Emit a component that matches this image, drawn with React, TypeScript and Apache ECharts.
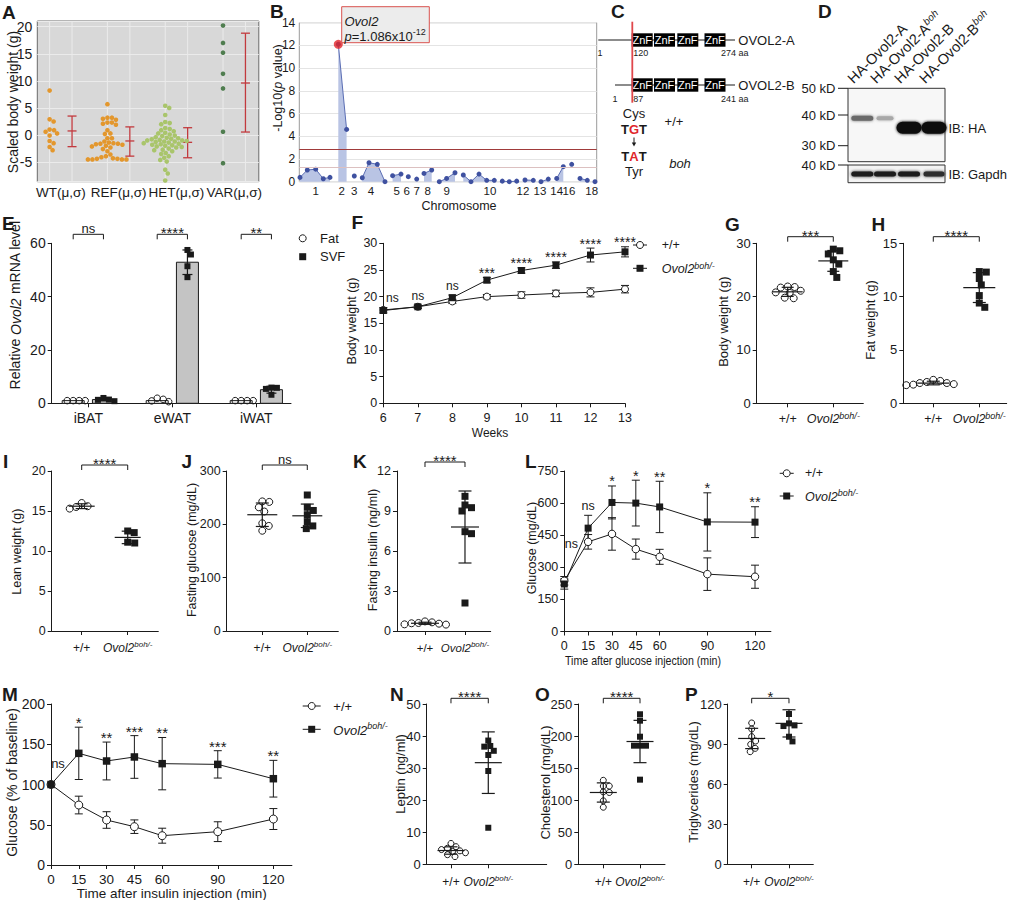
import React, { useEffect, useRef } from 'react';
import * as echarts from 'echarts';

const FONT = "'Liberation Sans', Arial, Helvetica, sans-serif";
const INK = '#1a1a1a';

// ---------------- Panel A ----------------
const aGroupLabels = ['WT(μ,σ)', 'REF(μ,σ)', 'HET(μ,σ)', 'VAR(μ,σ)'];
const aWT = [8.2, 2.9, 2.5, 1.0, 0.9, 0.6, 0.3, -0.1, -1.1, -1.5, -2.2, -2.8];
const aREF = [5.7, 3.2, 3.2, 3.0, 2.8, 2.3, 2.3, 2.1, 1.9, 0.9, 0.3, 0.2, -0.6, -0.6, -1.2, -1.4, -1.5, -1.6, -1.6, -1.7, -1.8, -2.0, -2.1, -2.3, -2.6, -3.0, -3.6, -3.9, -4.1, -4.3, -4.4, -4.5, -4.5, -4.5, -4.5, -4.4];
const aHET = [5.4, 5.0, 3.7, 2.4, 2.2, 2.0, 1.3, 1.1, 0.9, 0.7, 0.4, 0.3, 0.1, -0.1, -0.2, -0.4, -0.5, -0.6, -0.7, -0.8, -0.9, -1.0, -1.0, -1.1, -1.2, -1.2, -1.3, -1.4, -1.5, -1.6, -1.7, -1.8, -1.9, -2.0, -2.1, -2.2, -2.3, -2.5, -2.7, -2.8, -3.0, -3.3, -3.5, -3.9, -4.2, -4.6, -4.9, -6.4, -7.1, -8.4];
const aVAR = [20.2, 17.0, 15.2, 11.3, 8.6, 0.6, -5.2];
const aMean = [0.75, -1.1, -1.35, 9.6];
const aLow = [-2.15, -3.9, -4.2, 0.55];
const aHigh = [3.5, 1.5, 1.35, 18.8];
const aColors = ['#e3972d', '#e3972d', '#a9c56b', '#4f7d4f'];

// ---------------- Panel B ----------------
const bChrom = ['1', '1', '1', '1', '1', '2', '2', '3', '4', '4', '4', '4', '5', '5', '6', '7', '8', '8', '9', '9', '9', '10', '10', '10', '10', '10', '11', '11', '11', '12', '12', '13', '13', '14', '14', '16', '17', '17', '18'];
const bPos = [0.7, 8, 16.4, 24, 30.7, 39, 47.3, 55, 63, 69.7, 78, 85.7, 93.3, 101.7, 109, 117.4, 124.7, 132.4, 140, 147.3, 155.7, 164, 171.7, 179.7, 187.4, 195, 203, 210, 217.4, 225.7, 234, 241.7, 249, 257.4, 264, 272.4, 280.7, 288, 295.7];
const bLogP = [0.38, 1.03, 1.1, 0.26, 0.38, 12.1, 4.6, 0.5, 0.35, 1.67, 1.53, 0.0, 0.53, 0.67, 0.44, 0.23, 0.73, 1.03, 0.0, 0.29, 0.79, 0.59, 0.0, 0.67, 0.12, 0.12, 0.05, 0.0, 0.05, 0.15, 0.12, 0.0, 0.23, 0.29, 1.32, 1.53, 0.29, 0.12, 0.0];
const bChromLabels = ['1', '2', '3', '4', '5', '6', '7', '8', '9', '10', '12', '13', '14', '16', '17', '18'];
const bChromLabelPos = [16.4, 42.4, 55, 71.7, 97.4, 107.4, 117.4, 128.4, 147.4, 190.7, 223.7, 240.7, 257.4, 269.7, 280.7, 292.4];
const bPeak = [39, 12.1];
const bThresholds = [2.85, 1.23];

// ---------------- Panel E ----------------
const eTissues = ['iBAT', 'eWAT', 'iWAT'];
const eFatPts = [[1.0, 1.0, 1.0, 1.0], [0.6, 1.9, 1.5, 0.9], [1.0, 1.0, 1.0, 1.0]];
const eSvfPts = [[0.8, 2.0, 1.3, 1.4], [55.8, 57.5, 51.4, 47.3], [5.9, 5.8, 5.4, 3.2]];
const eFatMean = [1.0, 1.0, 1.0];
const eSvfMean = [1.4, 52.9, 5.1];
const eSvfSd = [0.5, 4.6, 1.3];
const eSig = ['ns', '****', '**'];

// ---------------- Panel F ----------------
const fWeeks = [6, 7, 8, 9, 10, 11, 12, 13];
const fWT = [17.5, 18.1, 19.1, 20.0, 20.3, 20.6, 20.8, 21.4];
const fWTsd = [0.4, 0.3, 0.4, 0.4, 0.6, 0.6, 0.85, 0.7];
const fKO = [17.4, 18.1, 19.8, 23.1, 24.9, 25.9, 27.8, 28.4];
const fKOsd = [0.5, 0.3, 0.5, 0.5, 0.5, 0.6, 1.3, 0.95];
const fSig = ['ns', 'ns', 'ns', '***', '****', '****', '****', '****'];
const fSigDx = [9, 0, 0, 0, 0, 0, 0, 0];
const fSigDy = [-1, 0, 0, 0, 0, 0, 0, 0];

// ---------------- Panel L ----------------
const lTimes = [0, 15, 30, 45, 60, 90, 120];
const lWT = [237, 419, 456, 385, 349, 268, 256];
const lWTsd = [20, 34, 76, 47, 35, 76, 54];
const lKO = [222, 483, 603, 600, 582, 512, 511];
const lKOsd = [24, 60, 77, 107, 120, 136, 72];
const lSig = ['ns', 'ns', '*', '*', '**', '*', '**'];
const lSigDx = [7, 0, 0, 0, 0, 0, 0];
const lSigDy = [-24, 0, 0, 0, 0, 0, 0];

// ---------------- Panel M ----------------
const mTimes = [0, 15, 30, 45, 60, 90, 120];
const mWT = [100, 74.5, 55.9, 47.6, 36.4, 41.4, 57.1];
const mWTsd = [0, 11, 10.3, 8.4, 9.3, 12.3, 13];
const mKO = [100, 138.7, 129.2, 134.2, 125.9, 125, 107.2];
const mKOsd = [0, 32.5, 23.5, 26.5, 32.5, 17, 22.8];
const mSig = ['ns', '*', '**', '***', '**', '***', '**'];
const mSigDx = [7, 0, 0, 0, 0, 0, 0];
const mSigDy = [-12, 0, 0, 0, 0, 0, 0];

// ---------------- Dot plots G–P ----------------
const gWT = [21.9, 21.8, 21.7, 21.1, 20.8, 20.7, 19.8, 19.7];
const gKO = [28.9, 28.6, 28.0, 26.9, 26.1, 24.7, 23.6];
const gMean = [20.9, 26.7];
const gSd = [0.85, 1.95];
const hWT = [2.2, 2.1, 2.0, 1.9, 1.9, 1.8, 1.75, 1.7];
const hKO = [12.35, 12.3, 11.7, 11.1, 10.1, 9.4, 9.0];
const hMean = [1.9, 10.85];
const hSd = [0.17, 1.4];
const iWT = [16.0, 15.6, 15.5, 15.3];
const iKO = [12.5, 12.3, 11.1, 11.0];
const iMean = [15.6, 11.7];
const iSd = [0.3, 0.78];
const jWT = [243, 242, 232, 224, 202, 197, 188];
const jKO = [255, 232, 226, 218, 205, 197, 192];
const jMean = [218, 216];
const jSd = [22, 22];
const kWT = [0.72, 0.65, 0.6, 0.58, 0.55, 0.5, 0.48];
const kKO = [10.1, 9.45, 9.25, 9.0, 7.45, 7.3, 2.1];
const kMean = [0.58, 7.8];
const kSd = [0.08, 2.7];
const nWT = [6.5, 5.5, 5.0, 4.6, 4.2, 4.0, 3.6, 3.0, 2.4];
const nKO = [38.6, 36.9, 36.7, 35.4, 34.1, 29.1, 11.4];
const nMean = [4.3, 31.7];
const nSd = [1.15, 9.6];
const oWT = [131, 122, 122, 113, 112, 99, 89];
const oKO = [234, 224, 199, 185, 185, 185, 132];
const oMean = [112, 191.5];
const oSd = [15, 33];
const pWT = [105.8, 101.3, 95.6, 92.3, 89.8, 86.8, 84.3];
const pKO = [112.5, 105.5, 104, 103.5, 95.5, 92];
const pMean = [94.2, 105.5];
const pSd = [7.6, 10.2];

// ---------------- Panel D ----------------
const dLaneLabels = ['{n|HA-Ovol2-A}', '{n|HA-Ovol2-A}{s|boh}', '{n|HA-Ovol2-B}', '{n|HA-Ovol2-B}{s|boh}'];
const dMarkers = ['50 kD', '40 kD', '30 kD', '40 kD'];

// beeswarm layout (deterministic, derived from values)
function swarm(vals: number[], pxPerUnit: number, d: number): number[] {
  const order = vals.map((_, i) => i).sort((a, b) => vals[b] - vals[a]);
  const placed: number[][] = [];
  const out: number[] = new Array(vals.length).fill(0);
  for (const i of order) {
    const y = vals[i] * pxPerUnit;
    let x = 0;
    for (let k = 0; k < 600; k++) {
      const cands = k === 0 ? [0] : [k * 0.5, -k * 0.5];
      let ok: number | null = null;
      for (const c of cands) {
        if (placed.every(([px, py]) => (px - c) * (px - c) + (py - y) * (py - y) >= d * d)) { ok = c; break; }
      }
      if (ok !== null) { x = ok; break; }
    }
    out[i] = x;
    placed.push([x, y]);
  }
  return out;
}

function rich(fs: number) {
  const s = Math.round(fs * 0.7);
  return {
    n: { fontSize: fs, fontFamily: FONT, color: INK, fill: INK, lineHeight: fs + 2, verticalAlign: 'bottom' },
    i: { fontSize: fs, fontFamily: FONT, color: INK, fill: INK, fontStyle: 'italic', lineHeight: fs + 2, verticalAlign: 'bottom' },
    b: { fontSize: fs, fontFamily: FONT, color: INK, fill: INK, fontWeight: 'bold', lineHeight: fs + 2, verticalAlign: 'bottom' },
    r: { fontSize: fs, fontFamily: FONT, color: '#e0262b', fill: '#e0262b', fontWeight: 'bold', lineHeight: fs + 2, verticalAlign: 'bottom' },
    s: { fontSize: s, fontFamily: FONT, color: INK, fill: INK, fontStyle: 'italic', lineHeight: s, verticalAlign: 'top' },
    sn: { fontSize: s, fontFamily: FONT, color: INK, fill: INK, lineHeight: s, verticalAlign: 'top' },
  };
}

function buildOption() {
  const grids: any[] = [];
  const xAxis: any[] = [];
  const yAxis: any[] = [];
  const series: any[] = [];
  const graphic: any[] = [];

  const axLine = { show: true, lineStyle: { color: INK, width: 1 } };
  const axTick = { show: true, length: 4, lineStyle: { color: INK, width: 1 } };
  const lbl = (fs: number, extra: any = {}) => ({ color: INK, fontSize: fs, fontFamily: FONT, hideOverlap: false, ...extra });

  function addGrid(g: number[], extra: any, x: any, y: any) {
    const i = grids.length;
    grids.push({ left: g[0], top: g[1], width: g[2], height: g[3], containLabel: false, outerBoundsMode: 'none', ...extra });
    xAxis.push({ gridIndex: i, ...x });
    yAxis.push({ gridIndex: i, ...y });
    return i;
  }

  const text = (x: number, y: number, t: string, fs: number, opts: any = {}) => ({
    type: 'text', x, y, rotation: opts.rotation || 0, scaleX: opts.scaleX || 1, z: 20,
    style: {
      text: t, rich: rich(fs), fontSize: fs, fontFamily: FONT, fill: opts.fill || INK,
      fontWeight: opts.bold ? 'bold' : 'normal', fontStyle: opts.italic ? 'italic' : 'normal',
      align: opts.align || 'center', verticalAlign: opts.va || 'middle',
    },
  });
  const yTitle = (t: string, x: number, y: number, fs: number) => text(x, y, t, fs, { rotation: Math.PI / 2 });
  const letter = (t: string, x: number, y: number) => text(x, y, t, 19, { bold: true, align: 'left' });

  const dots = (gi: number, data: any[], kind: string, size: number, color = INK, z = 5) => ({
    type: 'custom', xAxisIndex: gi, yAxisIndex: gi, data, clip: false, z, silent: true,
    encode: { x: 0, y: 1 },
    renderItem: (params: any, api: any) => {
      const p = api.coord([api.value(0), api.value(1)]);
      const cx = p[0] + api.value(2);
      const cy = p[1];
      if (kind === 'sq') return { type: 'rect', shape: { x: cx - size / 2, y: cy - size / 2, width: size, height: size }, style: { fill: INK } };
      if (kind === 'open') return { type: 'circle', shape: { cx, cy, r: size / 2 }, style: { fill: 'rgba(255,255,255,0)', stroke: INK, lineWidth: 1 } };
      return { type: 'circle', shape: { cx, cy, r: size / 2 }, style: { fill: color } };
    },
  });

  const errs = (gi: number, data: any[], meanW: number, capW: number, color = INK, lw = 1, z = 4) => ({
    type: 'custom', xAxisIndex: gi, yAxisIndex: gi, data, clip: false, z, silent: true,
    encode: { x: 0, y: [1, 2, 3] },
    renderItem: (params: any, api: any) => {
      const x = api.value(0);
      const m = api.coord([x, api.value(1)]);
      const lo = api.coord([x, api.value(2)]);
      const hi = api.coord([x, api.value(3)]);
      const st = { stroke: color, lineWidth: lw, fill: 'none' };
      const ch: any[] = [
        { type: 'line', shape: { x1: m[0], y1: lo[1], x2: m[0], y2: hi[1] }, style: st },
        { type: 'line', shape: { x1: m[0] - capW / 2, y1: lo[1], x2: m[0] + capW / 2, y2: lo[1] }, style: st },
        { type: 'line', shape: { x1: m[0] - capW / 2, y1: hi[1], x2: m[0] + capW / 2, y2: hi[1] }, style: st },
      ];
      if (meanW > 0) ch.push({ type: 'line', shape: { x1: m[0] - meanW / 2, y1: m[1], x2: m[0] + meanW / 2, y2: m[1] }, style: st });
      return { type: 'group', children: ch };
    },
  });

  const sigY = (label: string, center: number) => (label.indexOf('*') >= 0 ? center + 3.5 : center - 1);
  const sigFs = (label: string, fs: number) => (label.indexOf('*') >= 0 ? fs + 2 : fs);

  const bracket = (gi: number, x1: number, x2: number, yRef: number, label: string, off: number, fs: number) => ({
    type: 'custom', xAxisIndex: gi, yAxisIndex: gi, data: [[x1, x2, yRef]], clip: false, silent: true, z: 6,
    encode: { x: [0, 1], y: 2 },
    renderItem: (params: any, api: any) => {
      const a = api.coord([api.value(0), api.value(2)]);
      const b = api.coord([api.value(1), api.value(2)]);
      const y = a[1] - off;
      return {
        type: 'group', children: [
          { type: 'polyline', shape: { points: [[a[0], y + 5], [a[0], y], [b[0], y], [b[0], y + 5]] }, style: { stroke: INK, lineWidth: 1, fill: 'none' } },
          { type: 'text', x: (a[0] + b[0]) / 2, y: sigY(label, y - 5), style: { text: label, align: 'center', verticalAlign: 'middle', fontSize: sigFs(label, fs), fontFamily: FONT, fill: INK } },
        ],
      };
    },
  });

  const sigText = (gi: number, xs: number[], tops: number[], labels: string[], dx: number[], dy: number[], fs: number) => ({
    type: 'custom', xAxisIndex: gi, yAxisIndex: gi, data: xs.map((x, i) => [x, tops[i], dx[i], dy[i]]), clip: false, silent: true, z: 7,
    encode: { x: 0, y: 1 },
    renderItem: (params: any, api: any) => {
      const p = api.coord([api.value(0), api.value(1)]);
      const label = labels[params.dataIndex];
      const c = p[1] - 8 + api.value(3);
      return { type: 'text', x: p[0] + api.value(2), y: sigY(label, c), style: { text: label, align: 'center', verticalAlign: 'middle', fontSize: sigFs(label, fs), fontFamily: FONT, fill: INK } };
    },
  });

  const lineSeries = (gi: number, xs: number[], ys: number[], kind: string, size: number) => ({
    type: 'line', xAxisIndex: gi, yAxisIndex: gi, data: xs.map((x, i) => [x, ys[i]]),
    symbol: kind === 'sq' ? 'rect' : 'circle', symbolSize: size, showSymbol: true, showAllSymbol: true,
    itemStyle: kind === 'sq' ? { color: INK } : { color: '#fff', borderColor: INK, borderWidth: 1 },
    lineStyle: { color: INK, width: 1 }, z: 5, silent: true, emphasis: { disabled: true },
  });

  const legendRow = (cx: number, y: number, kind: string, t: string, tx: number, fs: number, half: number) => {
    const els: any[] = [];
    if (half > 0) els.push({ type: 'line', z: 20, shape: { x1: cx - half, y1: y, x2: cx + half, y2: y }, style: { stroke: INK, lineWidth: 1 } });
    if (kind === 'open') els.push({ type: 'circle', z: 21, shape: { cx, cy: y, r: 3.5 }, style: { fill: '#fff', stroke: INK, lineWidth: 1 } });
    else els.push({ type: 'rect', z: 21, shape: { x: cx - 3.5, y: y - 3.5, width: 7, height: 7 }, style: { fill: INK } });
    els.push(text(tx, y, t, fs, { align: 'left' }));
    return els;
  };

  // ============ A ============
  const aG = [37.3, 21, 221.5, 160.7];
  const aYMin = -8.62;
  const aYMax = 21.05;
  const aPx = aG[3] / (aYMax - aYMin);
  const aOff = 0.194;
  const giA = addGrid(aG, { show: true, backgroundColor: '#d8d8d8', borderColor: '#6a6a6a', borderWidth: 1 },
    {
      type: 'value', min: 0.593, max: 4.425, axisLine: { show: false }, axisTick: { show: false }, splitLine: { show: false },
      axisLabel: lbl(13.5, { margin: 4, customValues: [1, 2, 3, 4], formatter: (v: number) => aGroupLabels[Math.round(v) - 1] || '' }),
    },
    {
      type: 'value', min: aYMin, max: aYMax, axisLine: { show: false }, axisTick: { show: false },
      splitLine: { show: true, lineStyle: { color: '#ebebeb', width: 1 } },
      axisLabel: lbl(14, { margin: 5, formatter: (v: number) => (Math.abs(v % 5) < 1e-6 ? String(Math.round(v)) : '') }),
    });
  const aGridX: number[] = [];
  aGroupLabels.forEach((_, g) => { aGridX.push(g + 1 - aOff, g + 1 + aOff); });
  series.push({
    type: 'custom', xAxisIndex: giA, yAxisIndex: giA, data: aGridX.map((x) => [x, 0]), z: 1, silent: true, clip: false,
    encode: { x: 0, y: 1 },
    renderItem: (params: any, api: any) => {
      const a = api.coord([api.value(0), aYMin]);
      const b = api.coord([api.value(0), aYMax]);
      return { type: 'line', shape: { x1: a[0], y1: a[1], x2: b[0], y2: b[1] }, style: { stroke: '#ebebeb', lineWidth: 1 } };
    },
  });
  [aWT, aREF, aHET, aVAR].forEach((vals, g) => {
    const off = swarm(vals, aPx, 4.4);
    series.push(dots(giA, vals.map((v, i) => [g + 1 - aOff, v, off[i]]), 'dot', 4.6, aColors[g]));
  });
  series.push(errs(giA, aMean.map((m, g) => [g + 1 + aOff, m, aLow[g], aHigh[g]]), 9, 9, '#c23a3e', 1.3));
  graphic.push(letter('A', 2, 12));
  graphic.push(yTitle('Scaled body weight (g)', 12.5, 102, 14));

  // ============ B ============
  const giB = addGrid([299.3, 22.7, 297.4, 159], { show: true, borderColor: '#9a9a9a', borderWidth: 1, backgroundColor: '#fff' },
    {
      type: 'value', min: 0, max: 297.4, axisLine: { show: false }, axisTick: { show: false }, splitLine: { show: false },
      axisLabel: lbl(11.5, {
        margin: 3, customValues: bChromLabelPos, showMinLabel: true, showMaxLabel: true,
        formatter: (v: number) => {
          let bi = 0;
          bChromLabelPos.forEach((p, i) => { if (Math.abs(p - v) < Math.abs(bChromLabelPos[bi] - v)) bi = i; });
          return bChromLabels[bi];
        },
      }),
    },
    {
      type: 'value', min: 0, max: 14, interval: 2, axisLine: { show: false }, axisTick: { show: false },
      splitLine: { show: true, lineStyle: { color: '#e4e4e4', width: 1 } },
      axisLabel: lbl(12, { margin: 4 }),
    });
  const bData: any[] = [];
  bPos.forEach((x, i) => {
    if (i > 0 && bChrom[i] !== bChrom[i - 1]) bData.push([(bPos[i - 1] + x) / 2, '-']);
    bData.push([x, bLogP[i]]);
  });
  series.push({
    type: 'line', xAxisIndex: giB, yAxisIndex: giB, data: bData, connectNulls: false, symbol: 'circle', symbolSize: 5, showAllSymbol: true,
    itemStyle: { color: '#3f51a0' }, lineStyle: { color: '#5a6db3', width: 1 }, areaStyle: { color: '#b9c4e4', opacity: 1 },
    silent: true, z: 3,
    markLine: {
      silent: true, symbol: ['none', 'none'], label: { show: false },
      data: [
        { yAxis: bThresholds[0], lineStyle: { color: '#a03a3a', width: 1.2, type: 'solid' } },
        { yAxis: bThresholds[1], lineStyle: { color: '#dcc0c0', width: 1.2, type: 'solid' } },
      ],
    },
  });
  series.push({ type: 'scatter', xAxisIndex: giB, yAxisIndex: giB, data: [bPeak], symbolSize: 9, itemStyle: { color: '#e3262b' }, z: 8, silent: true });
  graphic.push(letter('B', 270, 11));
  graphic.push(yTitle('-Log10({i|p} value)', 277.5, 88, 12.5));
  graphic.push(text(459, 205.5, 'Chromosome', 12.5));
  graphic.push({ type: 'rect', z: 19, shape: { x: 341.7, y: 6.7, width: 87.6, height: 36 }, style: { fill: '#ececec', stroke: '#d9534f', lineWidth: 1 } });
  graphic.push(text(344.5, 20, '{i|Ovol2}', 13, { align: 'left' }));
  graphic.push(text(344.5, 35, '{i|p}{n|=1.086x10}{sn|-12}', 13, { align: 'left' }));

  // ============ C ============
  const cBoxX = [631.7, 654, 677.3, 704.5];
  graphic.push(letter('C', 611, 11.5));
  [[40, 598.3, '1', 600, '120', '274 aa', 'OVOL2-A', 53], [85, 615, '1', 615, '87', '241 aa', 'OVOL2-B', 99]].forEach((r: any) => {
    const y = r[0];
    graphic.push({ type: 'line', z: 18, shape: { x1: r[1], y1: y, x2: 735, y2: y }, style: { stroke: INK, lineWidth: 1.2 } });
    cBoxX.forEach((bx) => {
      graphic.push({ type: 'rect', z: 19, shape: { x: bx, y: y - 6.7, width: 21, height: 13.4 }, style: { fill: '#000' } });
      graphic.push(text(bx + 10.5, y, 'ZnF', 11, { fill: '#fff' }));
    });
    graphic.push(text(738.3, y, r[6], 13, { align: 'left' }));
    graphic.push(text(r[3], r[7], r[2], 9, { align: 'center' }));
    graphic.push(text(633.3, r[7], r[4], 9, { align: 'left' }));
    graphic.push(text(721, r[7], r[5], 9, { align: 'left' }));
  });
  graphic.push({ type: 'line', z: 22, shape: { x1: 632.3, y1: 21.7, x2: 632.3, y2: 102.7 }, style: { stroke: '#e0474c', lineWidth: 1.8 } });
  graphic.push(text(634, 113.3, 'Cys', 13));
  graphic.push(text(634, 128.3, '{b|T}{r|G}{b|T}', 13));
  graphic.push({ type: 'line', z: 20, shape: { x1: 634, y1: 137.5, x2: 634, y2: 143.5 }, style: { stroke: INK, lineWidth: 1 } });
  graphic.push({ type: 'polygon', z: 20, shape: { points: [[631.8, 142.5], [636.2, 142.5], [634, 146.5]] }, style: { fill: INK } });
  graphic.push(text(634, 155, '{b|T}{r|A}{b|T}', 13));
  graphic.push(text(634, 171.7, 'Tyr', 13));
  graphic.push(text(674, 121, '+/+', 13));
  graphic.push(text(680, 163.3, 'boh', 13, { italic: true }));

  // ============ D ============
  graphic.push(letter('D', 818, 11.5));
  const dLaneX = [862.3, 885, 909, 934];
  dLaneLabels.forEach((t, i) => {
    graphic.push(text(dLaneX[i] - 7, 86, t, 14.5, { rotation: Math.PI / 4, align: 'left', va: 'bottom' }));
  });
  graphic.push({ type: 'rect', z: 18, shape: { x: 848, y: 88.3, width: 97, height: 73.4 }, style: { fill: '#f7f7f7', stroke: '#333', lineWidth: 1 } });
  graphic.push({ type: 'rect', z: 18, shape: { x: 848, y: 165, width: 97, height: 17.7 }, style: { fill: '#f3f3f3', stroke: '#333', lineWidth: 1 } });
  const dBands = [
    [862.3, 118.3, 22, 5, '#6a6a6a'], [885, 118.3, 17, 4, '#a8a8a8'], [909, 127.7, 25, 12, '#0d0d0d'], [934, 127.7, 25, 12, '#0d0d0d'],
    [862.3, 174, 22, 5, '#1e1e1e'], [885, 174, 22, 5, '#1e1e1e'], [909, 174, 22, 5, '#1e1e1e'], [934, 174, 21, 5, '#2e2e2e'],
  ];
  dBands.forEach((b: any) => {
    graphic.push({ type: 'rect', z: 19, shape: { x: b[0] - b[2] / 2, y: b[1] - b[3] / 2, width: b[2], height: b[3], r: b[3] / 2 }, style: { fill: b[4], shadowBlur: 3, shadowColor: b[4] } });
  });
  const dMarkerY = [88.3, 115, 145.7, 165];
  dMarkers.forEach((m, i) => {
    graphic.push({ type: 'line', z: 18, shape: { x1: 838, y1: dMarkerY[i], x2: 848, y2: dMarkerY[i] }, style: { stroke: INK, lineWidth: 1 } });
    graphic.push(text(835.5, dMarkerY[i], m, 13, { align: 'right' }));
  });
  graphic.push(text(948.5, 128, 'IB: HA', 13, { align: 'left' }));
  graphic.push(text(948.5, 174, 'IB: Gapdh', 13, { align: 'left' }));

  // ============ E ============
  const eOff = 0.18;
  const eG = [51.7, 243.3, 239.3, 160];
  const giE = addGrid(eG, {},
    {
      type: 'value', min: 0.564, max: 3.413, axisLine: axLine, axisTick: { ...axTick, customValues: [1, 2, 3] }, splitLine: { show: false },
      axisLabel: lbl(14, { margin: 8, customValues: [1, 2, 3], formatter: (v: number) => eTissues[Math.round(v) - 1] || '' }),
    },
    { type: 'value', min: 0, max: 60, interval: 20, axisLine: axLine, axisTick: axTick, splitLine: { show: false }, axisLabel: lbl(14, { margin: 6 }) });
  const bars = (gi: number, data: any[], fill: string, w: number) => ({
    type: 'custom', xAxisIndex: gi, yAxisIndex: gi, data, clip: false, silent: true, z: 3, encode: { x: 0, y: 1 },
    renderItem: (params: any, api: any) => {
      const a = api.coord([api.value(0), 0]);
      const b = api.coord([api.value(0), api.value(1)]);
      return { type: 'rect', shape: { x: a[0] - w / 2, y: b[1], width: w, height: a[1] - b[1] }, style: { fill, stroke: INK, lineWidth: 1 } };
    },
  });
  series.push(bars(giE, eFatMean.map((m, g) => [g + 1 - eOff, m]), '#ffffff', 22));
  series.push(bars(giE, eSvfMean.map((m, g) => [g + 1 + eOff, m]), '#c4c4c4', 22));
  series.push(errs(giE, eSvfMean.map((m, g) => [g + 1 + eOff, m, m - eSvfSd[g], m + eSvfSd[g]]), 0, 10, INK, 1.2, 6));
  const ePx = eG[3] / 60;
  eFatPts.forEach((vals, g) => {
    const off = swarm(vals, ePx, 6);
    series.push(dots(giE, vals.map((v, i) => [g + 1 - eOff, v, off[i]]), 'open', 6.5));
  });
  eSvfPts.forEach((vals, g) => {
    const off = swarm(vals, ePx, 5.5);
    series.push(dots(giE, vals.map((v, i) => [g + 1 + eOff, v, off[i]]), 'sq', 6));
  });
  eSig.forEach((s, g) => series.push(bracket(giE, g + 1 - eOff, g + 1 + eOff, 60, s, 9, 13)));
  graphic.push(letter('E', 2, 223.5));
  graphic.push(yTitle('Relative {i|Ovol2} mRNA level', 15, 305, 14));
  graphic.push(...legendRow(302.7, 238.3, 'open', 'Fat', 320, 13, 0));
  graphic.push(...legendRow(302.7, 256.7, 'sq', 'SVF', 320, 13, 0));

  // ============ F ============
  const giF = addGrid([383.3, 243.3, 241.7, 160], {},
    { type: 'value', min: 6, max: 13, interval: 1, axisLine: axLine, axisTick: axTick, splitLine: { show: false }, axisLabel: lbl(12.5, { margin: 8 }) },
    { type: 'value', min: 0, max: 30, interval: 5, axisLine: axLine, axisTick: axTick, splitLine: { show: false }, axisLabel: lbl(12.5, { margin: 6 }) });
  series.push(errs(giF, fWeeks.map((w, i) => [w, fWT[i], fWT[i] - fWTsd[i], fWT[i] + fWTsd[i]]), 0, 8));
  series.push(errs(giF, fWeeks.map((w, i) => [w, fKO[i], fKO[i] - fKOsd[i], fKO[i] + fKOsd[i]]), 0, 8));
  series.push(lineSeries(giF, fWeeks, fWT, 'open', 7));
  series.push(lineSeries(giF, fWeeks, fKO, 'sq', 7));
  series.push(sigText(giF, fWeeks, fWeeks.map((_, i) => Math.max(fWT[i] + fWTsd[i], fKO[i] + fKOsd[i])), fSig, fSigDx, fSigDy, 12));
  graphic.push(letter('F', 351.5, 222.5));
  graphic.push(yTitle('Body weight (g)', 351.7, 321, 12.5));
  graphic.push(text(490, 432.7, 'Weeks', 12));
  graphic.push(...legendRow(640, 245, 'open', '+/+', 661.7, 12.5, 7));
  graphic.push(...legendRow(640, 268.3, 'sq', '{i|Ovol2}{s|boh/-}', 661.7, 12.5, 7));

  // ============ dot panels ============
  const dotPanels: any[] = [
    { L: 'G', lx: 725, ly: 224, g: [756.7, 243.3, 106.6, 160], xMin: 0.3202, xMax: 2.658, yMax: 30, yInt: 10, wt: gWT, ko: gKO, mean: gMean, sd: gSd, sig: '***', fs: 13, xfs: 12.5, xm: 8, size: 7, meanW: 30, capW: 12, bOff: 6.6, title: 'Body weight (g)', tx: 723.3, ty: 321.7 },
    { L: 'H', lx: 871.5, ly: 224, g: [903.3, 243.3, 103.4, 160], xMin: 0.348, xMax: 2.596, yMax: 15, yInt: 5, wt: hWT, ko: hKO, mean: hMean, sd: hSd, sig: '****', fs: 13, xfs: 12.5, xm: 8, size: 7, meanW: 32, capW: 13, bOff: 6.6, title: 'Fat weight (g)', tx: 870, ty: 320 },
    { L: 'I', lx: 3, ly: 461, g: [51.7, 471, 106.6, 160], xMin: 0.348, xMax: 2.665, yMax: 20, yInt: 5, wt: iWT, ko: iKO, mean: iMean, sd: iSd, sig: '****', fs: 12.5, xfs: 12, xm: 9, size: 7, meanW: 26, capW: 12, bOff: 6, title: 'Lean weight (g)', tx: 16.7, ty: 551.7 },
    { L: 'J', lx: 181.5, ly: 461, g: [226.7, 471, 111.6, 160], xMin: 0.209, xMax: 2.689, yMax: 300, yInt: 100, wt: jWT, ko: jKO, mean: jMean, sd: jSd, sig: 'ns', fs: 12.5, xfs: 12, xm: 9, size: 7, meanW: 30, capW: 13, bOff: 6, title: 'Fasting glucose (mg/dL)', tx: 191.7, ty: 550 },
    { L: 'K', lx: 353, ly: 461, g: [397, 471, 93.7, 160], xMin: 0.3, xMax: 2.643, yMax: 12, yInt: 3, wt: kWT, ko: kKO, mean: kMean, sd: kSd, sig: '****', fs: 12.5, xfs: 11.5, xm: 9, size: 7, meanW: 28, capW: 13, bOff: 9, title: 'Fasting insulin (ng/ml)', tx: 372.7, ty: 550 },
    { L: 'N', lx: 390, ly: 694, g: [426.7, 704, 120, 160.3], xMin: 0.349, xMax: 3.566, yMax: 50, yInt: 10, wt: nWT, ko: nKO, mean: nMean, sd: nSd, sig: '****', fs: 13, xfs: 12, xm: 10, size: 6, meanW: 27, capW: 13, bOff: 5.7, title: 'Leptin (ng/ml)', tx: 400, ty: 774 },
    { L: 'O', lx: 535, ly: 694, g: [578.3, 704, 86.7, 160.3], xMin: 0.319, xMax: 2.681, yMax: 250, yInt: 50, wt: oWT, ko: oKO, mean: oMean, sd: oSd, sig: '****', fs: 13, xfs: 12, xm: 10, size: 6, meanW: 27, capW: 13, bOff: 5.7, title: 'Cholesterol (mg/dL)', tx: 545, ty: 782.5 },
    { L: 'P', lx: 685, ly: 694, g: [727.7, 704, 85.6, 160.3], xMin: 0.357, xMax: 2.652, yMax: 120, yInt: 30, wt: pWT, ko: pKO, mean: pMean, sd: pSd, sig: '*', fs: 13, xfs: 12, xm: 10, size: 6, meanW: 27, capW: 13, bOff: 5.7, title: 'Triglycerides (mg/dL)', tx: 693.3, ty: 782 },
  ];
  dotPanels.forEach((P) => {
    const gi = addGrid(P.g, {},
      {
        type: 'value', min: P.xMin, max: P.xMax, axisLine: axLine, axisTick: { ...axTick, customValues: [1, 2] }, splitLine: { show: false },
        axisLabel: lbl(P.xfs, { margin: P.xm, customValues: [1, 2], rich: rich(P.xfs), formatter: (v: number) => (Math.round(v) === 1 ? '{n|+/+}' : '{i|Ovol2}{s|boh/-}') }),
      },
      { type: 'value', min: 0, max: P.yMax, interval: P.yInt, axisLine: axLine, axisTick: axTick, splitLine: { show: false }, axisLabel: lbl(P.fs, { margin: 6 }) });
    const px = P.g[3] / P.yMax;
    const offW = swarm(P.wt, px, P.size * 0.95);
    const offK = swarm(P.ko, px, P.size * 0.95);
    series.push(dots(gi, P.wt.map((v: number, i: number) => [1, v, offW[i]]), 'open', P.size));
    series.push(dots(gi, P.ko.map((v: number, i: number) => [2, v, offK[i]]), 'sq', P.size));
    series.push(errs(gi, [[1, P.mean[0], P.mean[0] - P.sd[0], P.mean[0] + P.sd[0]], [2, P.mean[1], P.mean[1] - P.sd[1], P.mean[1] + P.sd[1]]], P.meanW, P.capW, INK, 1.2, 6));
    series.push(bracket(gi, 1, 2, P.yMax, P.sig, P.bOff, 13));
    graphic.push(letter(P.L, P.lx, P.ly));
    graphic.push(yTitle(P.title, P.tx, P.ty, P.fs));
  });

  // ============ L ============
  const timeTicks = [0, 15, 30, 45, 60, 90, 120];
  const giL = addGrid([564.3, 471, 206.6, 160.5], {},
    { type: 'value', min: 0, max: 130, axisLine: axLine, axisTick: { ...axTick, customValues: timeTicks }, splitLine: { show: false }, axisLabel: lbl(12.5, { margin: 8, customValues: timeTicks }) },
    { type: 'value', min: 0, max: 750, interval: 150, axisLine: axLine, axisTick: axTick, splitLine: { show: false }, axisLabel: lbl(12.5, { margin: 6 }) });
  series.push(errs(giL, lTimes.map((t, i) => [t, lWT[i], lWT[i] - lWTsd[i], lWT[i] + lWTsd[i]]), 0, 8));
  series.push(errs(giL, lTimes.map((t, i) => [t, lKO[i], lKO[i] - lKOsd[i], lKO[i] + lKOsd[i]]), 0, 8));
  series.push(lineSeries(giL, lTimes, lWT, 'open', 7.5));
  series.push(lineSeries(giL, lTimes, lKO, 'sq', 7));
  series.push(sigText(giL, lTimes, lTimes.map((_, i) => Math.max(lWT[i] + lWTsd[i], lKO[i] + lKOsd[i])), lSig, lSigDx, lSigDy, 12.5));
  graphic.push(letter('L', 525, 461));
  graphic.push(yTitle('Glucose (mg/dL)', 531.7, 548, 12.5));
  graphic.push(text(643, 659.8, 'Time after glucose injection (min)', 12.5, { scaleX: 0.85 }));
  graphic.push(...legendRow(786.7, 473.3, 'open', '+/+', 805, 12.5, 7));
  graphic.push(...legendRow(786.7, 496, 'sq', '{i|Ovol2}{s|boh/-}', 805, 12.5, 7));

  // ============ M ============
  const giM = addGrid([51, 704, 240.9, 161], {},
    { type: 'value', min: 0, max: 130, axisLine: axLine, axisTick: { ...axTick, customValues: timeTicks }, splitLine: { show: false }, axisLabel: lbl(13.5, { margin: 7, customValues: timeTicks }) },
    { type: 'value', min: 0, max: 200, interval: 50, axisLine: axLine, axisTick: axTick, splitLine: { show: false }, axisLabel: lbl(14, { margin: 6 }) });
  series.push(errs(giM, mTimes.map((t, i) => [t, mWT[i], mWT[i] - mWTsd[i], mWT[i] + mWTsd[i]]), 0, 8));
  series.push(errs(giM, mTimes.map((t, i) => [t, mKO[i], mKO[i] - mKOsd[i], mKO[i] + mKOsd[i]]), 0, 8));
  series.push(lineSeries(giM, mTimes, mWT, 'open', 8));
  series.push(lineSeries(giM, mTimes, mKO, 'sq', 7.5));
  series.push(sigText(giM, mTimes, mTimes.map((_, i) => Math.max(mWT[i] + mWTsd[i], mKO[i] + mKOsd[i])), mSig, mSigDx, mSigDy, 13));
  graphic.push(letter('M', 2, 694));
  graphic.push(yTitle('Glucose (% of baseline)', 11.7, 782.5, 14));
  graphic.push(text(171.7, 893.2, 'Time after insulin injection (min)', 13.5));
  graphic.push(...legendRow(311.7, 706, 'open', '+/+', 333.3, 13, 9));
  graphic.push(...legendRow(311.7, 729.3, 'sq', '{i|Ovol2}{s|boh/-}', 333.3, 13, 9));

  return {
    animation: false,
    backgroundColor: '#ffffff',
    textStyle: { fontFamily: FONT },
    grid: grids,
    xAxis,
    yAxis,
    series,
    graphic,
  };
}

export default function App() {
  const ref = useRef<HTMLDivElement>(null);
  useEffect(() => {
    if (!ref.current) return;
    const chart = echarts.init(ref.current, null, { renderer: 'svg', width: 1011, height: 900 });
    chart.setOption(buildOption() as any);
    return () => chart.dispose();
  }, []);
  return <div ref={ref} style={{ position: 'absolute', left: 0, top: 0, width: 1011, height: 900, background: '#fff' }} />;
}
